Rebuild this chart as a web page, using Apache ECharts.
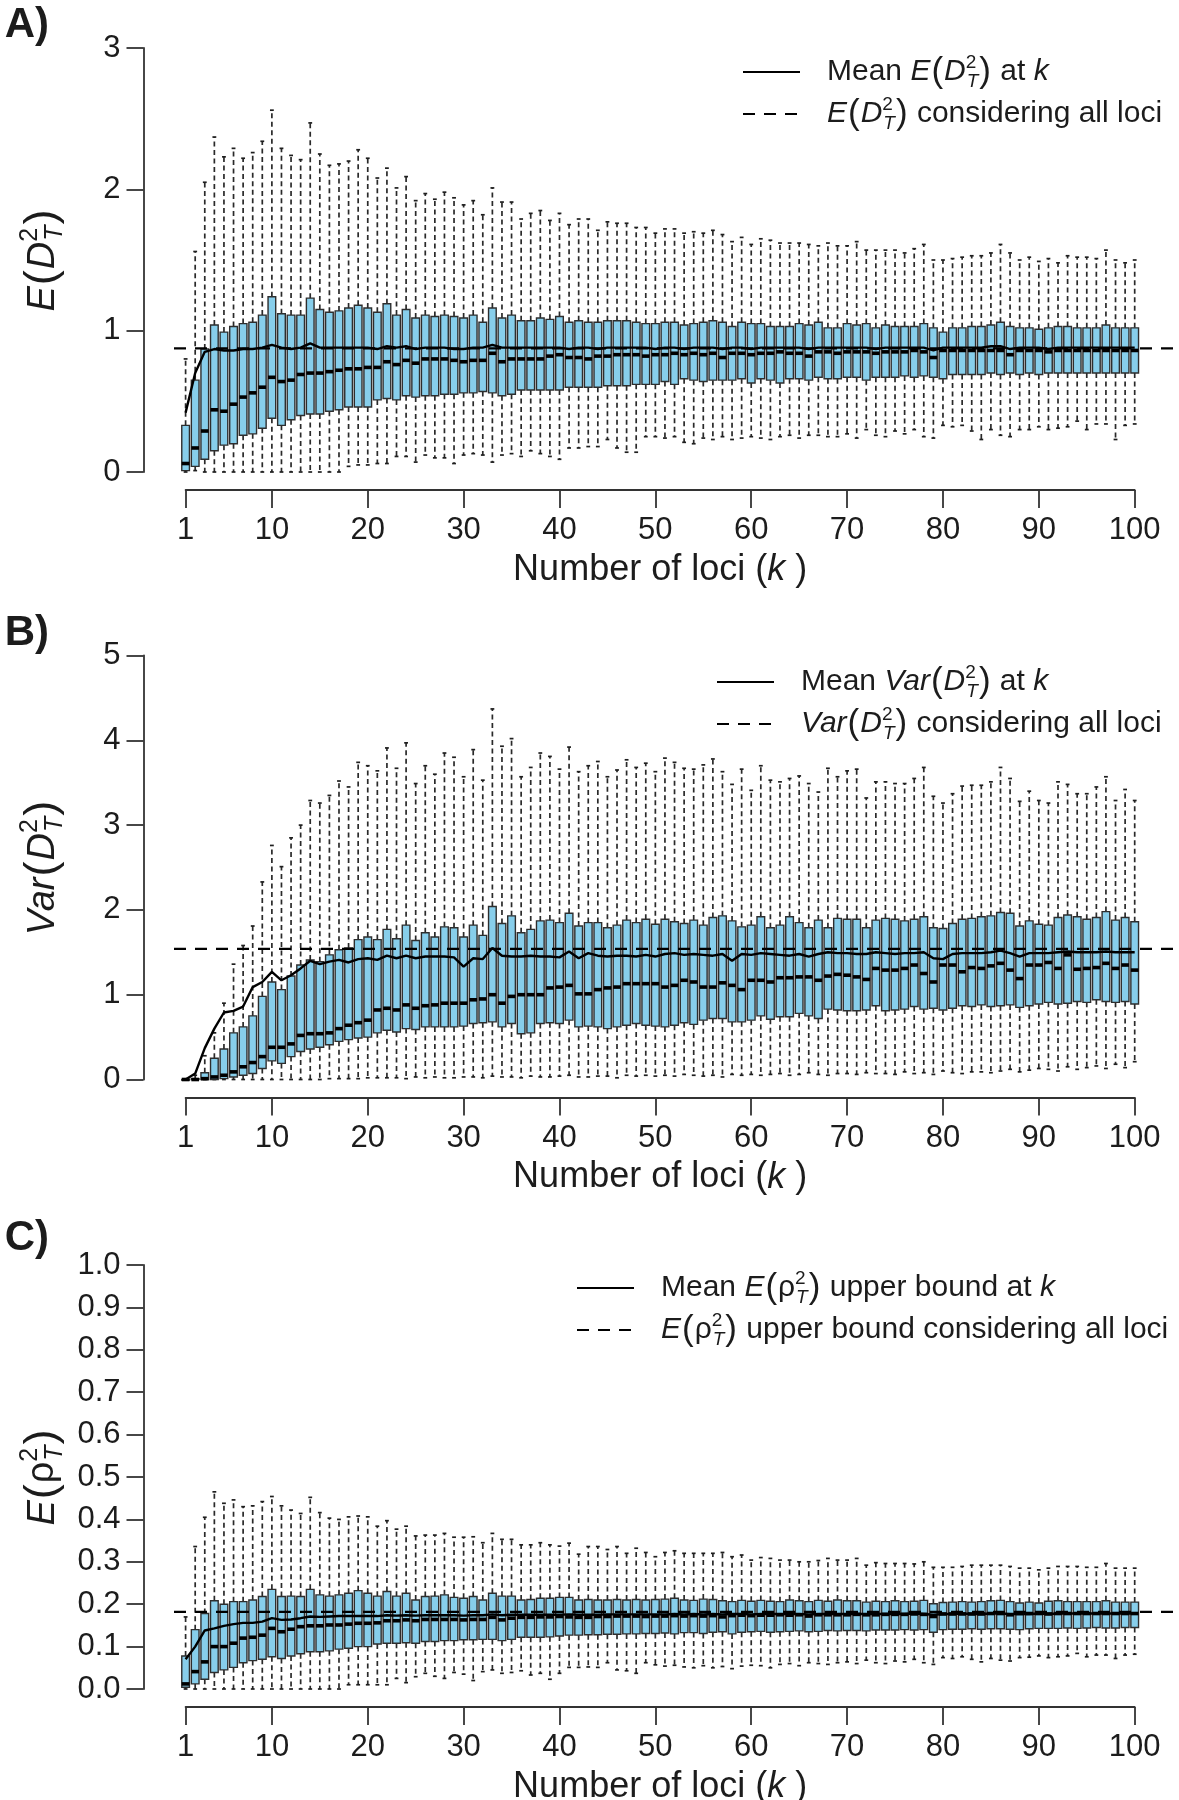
<!DOCTYPE html>
<html><head><meta charset="utf-8">
<script src="https://cdn.jsdelivr.net/npm/echarts@6/dist/echarts.min.js"></script>
<style>html,body{margin:0;padding:0;background:#fff}#c{width:1179px;height:1800px}</style>
</head><body><div id="c"></div>
<script>
// ---------------- DATA ----------------
const loci = [];
for (let k = 1; k <= 100; k++) loci.push(k);
const xTickValues = [1,10,20,30,40,50,60,70,80,90,100];

// Panel A: E(D_T^2)
const A_hi = [0.80,1.56,2.05,2.37,2.23,2.29,2.22,2.26,2.34,2.56, 2.29,2.24,2.21,2.47,2.25,2.17,2.18,2.20,2.28,2.22, 2.08,2.15,2.01,2.09,1.92,1.97,1.93,1.98,1.94,1.89, 1.92,1.82,2.01,1.91,1.91,1.79,1.83,1.85,1.78,1.83, 1.75,1.79,1.79,1.71,1.77,1.76,1.76,1.73,1.73,1.69, 1.72,1.72,1.69,1.70,1.69,1.71,1.68,1.63,1.66,1.61, 1.65,1.64,1.62,1.62,1.62,1.61,1.60,1.62,1.60,1.60, 1.63,1.57,1.57,1.57,1.57,1.55,1.58,1.61,1.50,1.50, 1.51,1.52,1.53,1.53,1.55,1.61,1.55,1.50,1.52,1.49, 1.51,1.48,1.53,1.52,1.52,1.51,1.57,1.50,1.48,1.50];
const A_q3 = [0.33,0.65,0.87,1.04,0.99,1.03,1.05,1.06,1.11,1.24, 1.12,1.11,1.11,1.23,1.15,1.13,1.14,1.16,1.18,1.16, 1.13,1.19,1.11,1.15,1.09,1.11,1.10,1.11,1.10,1.09, 1.11,1.06,1.16,1.09,1.11,1.07,1.07,1.09,1.08,1.10, 1.06,1.07,1.06,1.06,1.07,1.07,1.07,1.06,1.05,1.05, 1.06,1.06,1.04,1.05,1.06,1.07,1.06,1.03,1.06,1.05, 1.05,1.03,1.03,1.03,1.05,1.04,1.06,1.02,1.02,1.05, 1.04,1.05,1.02,1.04,1.03,1.03,1.03,1.05,1.02,0.99, 1.02,1.02,1.03,1.03,1.04,1.06,1.03,1.02,1.02,1.01, 1.02,1.03,1.03,1.02,1.02,1.02,1.04,1.02,1.02,1.02];
const A_med = [0.06,0.17,0.29,0.44,0.43,0.48,0.53,0.56,0.60,0.67, 0.64,0.65,0.69,0.70,0.70,0.71,0.72,0.73,0.73,0.74, 0.74,0.78,0.76,0.79,0.77,0.80,0.80,0.80,0.79,0.78, 0.79,0.79,0.84,0.78,0.80,0.80,0.80,0.80,0.82,0.83, 0.81,0.81,0.80,0.82,0.82,0.83,0.83,0.83,0.82,0.83, 0.83,0.84,0.83,0.84,0.83,0.84,0.81,0.84,0.84,0.83, 0.84,0.84,0.85,0.84,0.84,0.82,0.85,0.85,0.84,0.85, 0.85,0.85,0.84,0.85,0.85,0.85,0.86,0.85,0.81,0.86, 0.86,0.86,0.86,0.86,0.86,0.86,0.83,0.86,0.86,0.86, 0.85,0.86,0.86,0.86,0.86,0.86,0.86,0.86,0.86,0.86];
const A_q1 = [0.01,0.04,0.09,0.15,0.19,0.20,0.26,0.27,0.31,0.38, 0.33,0.37,0.40,0.41,0.41,0.43,0.44,0.46,0.46,0.46, 0.51,0.52,0.51,0.54,0.53,0.54,0.54,0.55,0.55,0.56, 0.56,0.57,0.56,0.54,0.55,0.58,0.58,0.58,0.58,0.58, 0.60,0.60,0.60,0.60,0.61,0.61,0.61,0.62,0.62,0.62, 0.64,0.62,0.66,0.65,0.64,0.65,0.65,0.65,0.66,0.63, 0.66,0.65,0.63,0.66,0.66,0.65,0.67,0.66,0.66,0.67, 0.67,0.65,0.67,0.67,0.67,0.68,0.67,0.68,0.67,0.66, 0.69,0.69,0.69,0.69,0.70,0.69,0.70,0.69,0.70,0.69, 0.70,0.70,0.70,0.70,0.70,0.70,0.70,0.70,0.70,0.70];
const A_lo = [0.00,0.01,0.00,0.00,0.00,0.00,0.00,0.00,0.00,0.00, 0.00,0.00,0.00,0.00,0.00,0.00,0.00,0.04,0.05,0.05, 0.06,0.06,0.11,0.11,0.07,0.12,0.10,0.10,0.06,0.12, 0.13,0.12,0.07,0.12,0.13,0.11,0.15,0.13,0.11,0.09, 0.17,0.17,0.18,0.18,0.23,0.17,0.14,0.14,0.25,0.25, 0.24,0.25,0.21,0.20,0.24,0.23,0.25,0.23,0.24,0.25, 0.24,0.23,0.25,0.26,0.24,0.26,0.26,0.25,0.25,0.27, 0.24,0.30,0.26,0.25,0.29,0.27,0.30,0.25,0.24,0.33, 0.32,0.33,0.29,0.23,0.30,0.26,0.25,0.30,0.30,0.32, 0.30,0.31,0.32,0.36,0.30,0.34,0.34,0.23,0.33,0.34];
const A_mean = [0.42,0.70,0.85,0.87,0.86,0.86,0.87,0.87,0.88,0.90, 0.88,0.87,0.88,0.91,0.88,0.88,0.88,0.88,0.88,0.88, 0.87,0.89,0.88,0.89,0.87,0.88,0.88,0.88,0.87,0.87, 0.88,0.88,0.90,0.88,0.88,0.88,0.88,0.88,0.88,0.88, 0.87,0.88,0.88,0.87,0.88,0.88,0.88,0.88,0.88,0.87, 0.88,0.88,0.87,0.88,0.88,0.88,0.87,0.88,0.88,0.87, 0.88,0.88,0.88,0.88,0.88,0.87,0.88,0.88,0.88,0.88, 0.88,0.88,0.87,0.88,0.88,0.88,0.88,0.88,0.86,0.88, 0.88,0.88,0.88,0.88,0.89,0.89,0.87,0.88,0.88,0.88, 0.87,0.88,0.88,0.88,0.88,0.88,0.88,0.88,0.88,0.88];
const A_all = 0.875;

// Panel B: Var(D_T^2)
const B_hi = [0.00,0.05,0.28,0.55,0.90,1.36,1.58,1.81,2.33,2.76, 2.51,2.85,3.00,3.29,3.26,3.35,3.52,3.45,3.74,3.70, 3.64,3.91,3.67,3.97,3.49,3.70,3.60,3.85,3.80,3.57, 3.89,3.53,4.37,3.93,4.02,3.57,3.68,3.85,3.81,3.66, 3.92,3.63,3.70,3.75,3.57,3.65,3.77,3.68,3.73,3.63, 3.79,3.74,3.67,3.66,3.71,3.78,3.63,3.48,3.66,3.41, 3.70,3.53,3.51,3.55,3.58,3.49,3.39,3.67,3.57,3.64, 3.66,3.32,3.51,3.51,3.49,3.49,3.55,3.68,3.34,3.26, 3.37,3.46,3.47,3.47,3.51,3.68,3.55,3.28,3.40,3.29, 3.26,3.51,3.48,3.37,3.37,3.45,3.57,3.29,3.42,3.29];
const B_q3 = [0.00,0.01,0.08,0.25,0.36,0.55,0.62,0.75,0.98,1.15, 1.06,1.22,1.35,1.41,1.39,1.47,1.53,1.55,1.65,1.68, 1.65,1.77,1.66,1.82,1.64,1.73,1.68,1.80,1.79,1.68, 1.82,1.70,2.04,1.84,1.93,1.73,1.77,1.87,1.88,1.85, 1.96,1.81,1.85,1.85,1.79,1.82,1.88,1.85,1.89,1.83, 1.89,1.86,1.84,1.88,1.82,1.91,1.93,1.87,1.80,1.82, 1.92,1.79,1.82,1.92,1.85,1.79,1.88,1.79,1.90,1.89, 1.89,1.79,1.88,1.90,1.89,1.87,1.89,1.92,1.79,1.78, 1.84,1.89,1.90,1.92,1.93,1.97,1.96,1.81,1.87,1.83, 1.82,1.91,1.94,1.92,1.89,1.91,1.98,1.88,1.91,1.86];
const B_med = [0.00,0.00,0.01,0.03,0.05,0.09,0.15,0.20,0.27,0.38, 0.38,0.42,0.52,0.54,0.54,0.55,0.60,0.64,0.67,0.70, 0.82,0.84,0.82,0.88,0.84,0.87,0.88,0.90,0.90,0.90, 0.94,0.95,1.00,0.90,0.98,1.00,1.00,1.00,1.08,1.09, 1.11,1.01,1.01,1.06,1.08,1.09,1.13,1.13,1.13,1.13, 1.09,1.11,1.17,1.15,1.09,1.09,1.14,1.11,1.06,1.17, 1.17,1.15,1.20,1.20,1.21,1.21,1.17,1.22,1.24,1.23, 1.21,1.18,1.31,1.29,1.29,1.31,1.35,1.25,1.15,1.35, 1.35,1.27,1.32,1.31,1.34,1.37,1.29,1.19,1.35,1.35, 1.38,1.31,1.47,1.30,1.31,1.32,1.37,1.31,1.35,1.29];
const B_q1 = [0.00,0.00,0.00,0.00,0.01,0.03,0.05,0.07,0.13,0.22, 0.19,0.27,0.33,0.36,0.38,0.41,0.45,0.47,0.49,0.50, 0.55,0.58,0.56,0.60,0.59,0.62,0.62,0.62,0.62,0.63, 0.66,0.67,0.68,0.62,0.66,0.54,0.55,0.66,0.67,0.66, 0.70,0.62,0.63,0.62,0.60,0.62,0.64,0.66,0.64,0.63, 0.62,0.64,0.67,0.65,0.70,0.72,0.72,0.68,0.68,0.70, 0.75,0.71,0.74,0.74,0.78,0.75,0.72,0.83,0.82,0.81, 0.81,0.82,0.87,0.81,0.82,0.83,0.86,0.83,0.84,0.82, 0.84,0.87,0.86,0.88,0.86,0.87,0.88,0.85,0.87,0.89, 0.91,0.89,0.90,0.92,0.91,0.94,0.92,0.91,0.92,0.89];
const B_lo = [0,0,0,0,0,0,0,0,0,0, 0,0,0,0,0,0.01,0.01,0.01,0.01,0.02, 0.02,0.02,0.02,0.01,0.03,0.02,0.03,0.02,0.02,0.03, 0.03,0.02,0.04,0.03,0.03,0.02,0.04,0.03,0.03,0.04, 0.05,0.03,0.03,0.04,0.04,0.02,0.05,0.04,0.05,0.04, 0.05,0.04,0.06,0.05,0.04,0.05,0.03,0.06,0.05,0.06, 0.05,0.06,0.07,0.05,0.06,0.08,0.06,0.05,0.07,0.07, 0.06,0.08,0.07,0.07,0.06,0.09,0.07,0.08,0.06,0.10, 0.08,0.07,0.09,0.09,0.08,0.10,0.12,0.09,0.11,0.13, 0.12,0.10,0.15,0.12,0.14,0.16,0.13,0.18,0.14,0.21];
const B_mean = [0.00,0.07,0.37,0.60,0.79,0.81,0.86,1.09,1.15,1.27, 1.17,1.23,1.31,1.40,1.36,1.39,1.41,1.38,1.42,1.43, 1.41,1.46,1.43,1.46,1.43,1.45,1.45,1.45,1.44,1.33, 1.43,1.42,1.55,1.46,1.45,1.45,1.46,1.45,1.45,1.44, 1.51,1.43,1.49,1.46,1.45,1.46,1.46,1.45,1.47,1.45, 1.48,1.49,1.47,1.48,1.47,1.46,1.48,1.40,1.48,1.47, 1.49,1.48,1.47,1.46,1.48,1.45,1.48,1.50,1.49,1.49, 1.48,1.48,1.50,1.49,1.48,1.49,1.49,1.50,1.43,1.42, 1.48,1.49,1.49,1.49,1.50,1.52,1.49,1.45,1.49,1.49, 1.49,1.50,1.51,1.50,1.50,1.50,1.51,1.50,1.50,1.50];
const B_all = 1.54;

// Panel C: E(rho_T^2) upper bound
const C_hi = [0.17,0.336,0.405,0.465,0.438,0.446,0.43,0.432,0.442,0.454, 0.432,0.422,0.414,0.452,0.416,0.403,0.40,0.406,0.408,0.406, 0.384,0.397,0.377,0.384,0.361,0.363,0.363,0.367,0.358,0.358, 0.359,0.345,0.367,0.353,0.353,0.34,0.34,0.345,0.34,0.337, 0.344,0.318,0.336,0.336,0.329,0.336,0.32,0.332,0.322,0.312, 0.322,0.326,0.32,0.32,0.32,0.32,0.322,0.312,0.316,0.304, 0.31,0.308,0.304,0.304,0.30,0.30,0.303,0.308,0.304,0.304, 0.308,0.292,0.298,0.296,0.296,0.296,0.295,0.30,0.287,0.287, 0.287,0.289,0.292,0.292,0.292,0.292,0.289,0.285,0.285,0.281, 0.285,0.289,0.289,0.289,0.287,0.287,0.296,0.285,0.285,0.285];
const C_q3 = [0.078,0.14,0.178,0.208,0.20,0.206,0.206,0.21,0.218,0.235, 0.218,0.219,0.218,0.235,0.222,0.219,0.222,0.226,0.232,0.226, 0.219,0.23,0.219,0.226,0.21,0.218,0.219,0.222,0.216,0.214, 0.218,0.21,0.226,0.219,0.219,0.21,0.211,0.214,0.214,0.216, 0.216,0.21,0.211,0.21,0.21,0.211,0.21,0.211,0.21,0.211, 0.212,0.214,0.21,0.209,0.212,0.211,0.208,0.206,0.209,0.207, 0.209,0.207,0.206,0.21,0.208,0.206,0.209,0.207,0.21,0.208, 0.208,0.205,0.207,0.206,0.208,0.206,0.207,0.209,0.201,0.204, 0.205,0.206,0.205,0.206,0.208,0.209,0.206,0.203,0.205,0.203, 0.207,0.208,0.206,0.206,0.206,0.206,0.208,0.205,0.205,0.205];
const C_med = [0.012,0.041,0.064,0.10,0.10,0.108,0.12,0.122,0.127,0.143, 0.135,0.141,0.147,0.149,0.149,0.151,0.151,0.153,0.155,0.155, 0.156,0.161,0.161,0.163,0.161,0.164,0.164,0.164,0.164,0.163, 0.164,0.164,0.169,0.163,0.167,0.169,0.169,0.17,0.17,0.171, 0.17,0.169,0.169,0.171,0.171,0.172,0.172,0.172,0.171,0.172, 0.172,0.173,0.172,0.173,0.172,0.173,0.17,0.173,0.174,0.173, 0.174,0.174,0.175,0.174,0.175,0.172,0.175,0.175,0.175,0.175, 0.176,0.175,0.175,0.176,0.176,0.176,0.177,0.176,0.171,0.177, 0.177,0.177,0.177,0.177,0.178,0.178,0.175,0.178,0.178,0.178, 0.177,0.178,0.178,0.178,0.178,0.178,0.178,0.178,0.178,0.178];
const C_q1 = [0.004,0.012,0.023,0.039,0.045,0.051,0.062,0.067,0.07,0.076, 0.072,0.078,0.083,0.088,0.088,0.09,0.094,0.096,0.10,0.10, 0.106,0.108,0.108,0.109,0.108,0.112,0.112,0.114,0.114,0.116, 0.116,0.117,0.117,0.114,0.117,0.122,0.122,0.122,0.123,0.125, 0.127,0.127,0.128,0.128,0.129,0.129,0.13,0.13,0.131,0.131, 0.132,0.13,0.133,0.133,0.131,0.134,0.135,0.13,0.134,0.135, 0.136,0.134,0.135,0.136,0.137,0.135,0.136,0.138,0.137,0.138, 0.138,0.137,0.139,0.139,0.139,0.14,0.139,0.14,0.134,0.14, 0.141,0.141,0.142,0.141,0.142,0.142,0.141,0.14,0.142,0.143, 0.143,0.143,0.144,0.143,0.144,0.145,0.144,0.144,0.145,0.145];
const C_lo = [0,0,0,0,0,0,0,0,0,0, 0,0,0,0,0,0,0,0.01,0.01,0.01, 0.01,0.01,0.025,0.015,0.029,0.037,0.03,0.025,0.039,0.035, 0.02,0.041,0.045,0.037,0.039,0.043,0.033,0.037,0.023,0.037, 0.051,0.051,0.052,0.051,0.062,0.045,0.043,0.037,0.062,0.057, 0.054,0.056,0.052,0.05,0.055,0.05,0.053,0.048,0.054,0.056, 0.055,0.05,0.058,0.06,0.055,0.062,0.06,0.058,0.062,0.064, 0.06,0.068,0.062,0.06,0.066,0.064,0.07,0.062,0.058,0.074, 0.072,0.076,0.07,0.064,0.072,0.068,0.066,0.074,0.075,0.078, 0.074,0.076,0.078,0.084,0.076,0.08,0.08,0.072,0.08,0.082];
const C_mean = [0.07,0.10,0.138,0.143,0.149,0.153,0.156,0.156,0.159,0.167, 0.163,0.164,0.167,0.171,0.17,0.171,0.172,0.172,0.172,0.172, 0.172,0.174,0.173,0.174,0.173,0.174,0.174,0.174,0.174,0.173, 0.174,0.174,0.176,0.174,0.175,0.175,0.175,0.175,0.175,0.175, 0.176,0.175,0.175,0.175,0.176,0.176,0.176,0.176,0.176,0.176, 0.176,0.177,0.176,0.177,0.176,0.177,0.176,0.177,0.177,0.176, 0.177,0.177,0.177,0.177,0.177,0.176,0.177,0.177,0.177,0.177, 0.177,0.177,0.177,0.177,0.177,0.177,0.178,0.177,0.175,0.177, 0.177,0.178,0.177,0.177,0.178,0.178,0.177,0.177,0.177,0.178, 0.177,0.178,0.178,0.178,0.178,0.178,0.178,0.178,0.178,0.178];
const C_all = 0.182;

// ---------------- STYLE / LAYOUT ----------------
const F = "'Liberation Sans', Arial, Helvetica, sans-serif";
const TX = '#1c1c1c';
const AX = '#333333';

function richSet(size, lh, supSize, parenSize, spacer) {
  const base = {fontFamily: F, color: TX, align: 'left'};
  return {
    sp:  Object.assign({}, base, {fontSize: size, lineHeight: lh, width: spacer || 0}),
    n:   Object.assign({}, base, {fontSize: size, lineHeight: lh}),
    i:   Object.assign({}, base, {fontSize: size, lineHeight: lh, fontStyle: 'italic'}),
    g:   Object.assign({}, base, {fontSize: size, lineHeight: lh}),
    p:   Object.assign({}, base, {fontSize: parenSize, lineHeight: lh, padding: [0, 1, 0, 1]}),
    sup: Object.assign({}, base, {fontSize: supSize, lineHeight: supSize + 2, verticalAlign: 'top', width: 1}),
    sub: Object.assign({}, base, {fontSize: supSize, lineHeight: supSize + 2, verticalAlign: 'bottom', fontStyle: 'italic'})
  };
}
const legendRich = richSet(30, 38, 19, 35, 22);
const titleRich = richSet(36, 46, 23, 42, 0);
const yTitleRich = richSet(38, 50, 25, 45, 0);

const legendText = {
  meanA: '{sp| }{n|Mean }{i|E}{p|(}{i|D}{sup|2}{sub|T}{p|)}{n| at }{i|k}',
  allA:  '{sp| }{i|E}{p|(}{i|D}{sup|2}{sub|T}{p|)}{n| considering all loci}',
  meanB: '{sp| }{n|Mean }{i|Var}{p|(}{i|D}{sup|2}{sub|T}{p|)}{n| at }{i|k}',
  allB:  '{sp| }{i|Var}{p|(}{i|D}{sup|2}{sub|T}{p|)}{n| considering all loci}',
  meanC: '{sp| }{n|Mean }{i|E}{p|(}{g|ρ}{sup|2}{sub|T}{p|)}{n| upper bound at }{i|k}',
  allC:  '{sp| }{i|E}{p|(}{g|ρ}{sup|2}{sub|T}{p|)}{n| upper bound considering all loci}'
};

const panels = [
  {hi:A_hi,q3:A_q3,med:A_med,q1:A_q1,lo:A_lo,mean:A_mean,all:A_all, yMax:3, yInt:1, dec:0,
   top:48, legLeft:742, legTop:53, meanName:'meanA', allName:'allA', label:'A)', labelY:25,
   yTitle:'{i|E}{p|(}{i|D}{sup|2}{sub|T}{p|)}'},
  {hi:B_hi,q3:B_q3,med:B_med,q1:B_q1,lo:B_lo,mean:B_mean,all:B_all, yMax:5, yInt:1, dec:0,
   top:655.5, legLeft:716, legTop:663, meanName:'meanB', allName:'allB', label:'B)', labelY:633,
   yTitle:'{i|Var}{p|(}{i|D}{sup|2}{sub|T}{p|)}'},
  {hi:C_hi,q3:C_q3,med:C_med,q1:C_q1,lo:C_lo,mean:C_mean,all:C_all, yMax:1, yInt:0.1, dec:1,
   top:1265, legLeft:576, legTop:1269, meanName:'meanC', allName:'allC', label:'C)', labelY:1238,
   yTitle:'{i|E}{p|(}{g|ρ}{sup|2}{sub|T}{p|)}'}
];
// plot frame: k = 1 at x = 185.6 px, k = 100 at x = 1134.7 px
const GRID_LEFT = 185.6, GRID_W = 949.1, GRID_H = 424;
// the reference ("all loci") line spans the full R plot region, drawn on an overlay grid in k units
const REF_LEFT = 174, REF_KMIN = -0.21, REF_KMAX = 104.62;

function renderBox(params, api) {
  const k = api.value(0);
  const pts = [1,2,3,4,5].map(d => api.coord([k, api.value(d)]));
  const cx = pts[2][0];
  const bw = api.size([0.8, 0])[0];
  const sw = bw * 0.5;
  const yLo = pts[0][1], yQ1 = pts[1][1], yMed = pts[2][1], yQ3 = pts[3][1], yHi = pts[4][1];
  const wStyle = {stroke: '#2a2a2a', lineWidth: 1.7, lineDash: [5, 3.5], fill: null};
  const sStyle = {stroke: '#1e1e1e', lineWidth: 1.7, fill: null};
  return {
    type: 'group',
    children: [
      {type: 'line', shape: {x1: cx, y1: yQ3, x2: cx, y2: yHi}, style: wStyle},
      {type: 'line', shape: {x1: cx, y1: yQ1, x2: cx, y2: yLo}, style: wStyle},
      {type: 'line', shape: {x1: cx - sw / 2, y1: yHi, x2: cx + sw / 2, y2: yHi}, style: sStyle},
      {type: 'line', shape: {x1: cx - sw / 2, y1: yLo, x2: cx + sw / 2, y2: yLo}, style: sStyle},
      {type: 'rect', shape: {x: cx - bw / 2, y: yQ3, width: bw, height: Math.max(yQ1 - yQ3, 0.6)},
       style: {fill: '#87CEEB', stroke: '#2e2e2e', lineWidth: 1.4}},
      {type: 'line', shape: {x1: cx - bw / 2, y1: yMed, x2: cx + bw / 2, y2: yMed},
       style: {stroke: '#000', lineWidth: 3.6}}
    ]
  };
}

const option = {
  animation: false,
  backgroundColor: '#ffffff',
  grid: [], xAxis: [], yAxis: [], series: [], legend: [], graphic: []
};

panels.forEach((P, i) => {
  // main plot grid (index 2i) and overlay grid for the reference line (index 2i+1)
  option.grid.push({left: GRID_LEFT, width: GRID_W, top: P.top, height: GRID_H, containLabel: false, outerBoundsMode: 'none'});
  option.grid.push({left: REF_LEFT, right: 0, top: P.top, height: GRID_H, containLabel: false, outerBoundsMode: 'none'});
  option.xAxis.push({
    gridIndex: 2 * i, type: 'value', min: 1, max: 100, offset: 18,
    axisLine: {show: true, onZero: false, lineStyle: {color: AX, width: 1.8}},
    axisTick: {show: true, length: 18, customValues: xTickValues, lineStyle: {color: AX, width: 1.8}},
    axisLabel: {customValues: xTickValues, margin: 25, fontSize: 31, color: TX, fontFamily: F},
    splitLine: {show: false},
    name: '{n|Number of loci (}{i|k}{n| )}', nameLocation: 'middle', nameGap: 57,
    nameTextStyle: {rich: titleRich}
  });
  option.xAxis.push({gridIndex: 2 * i + 1, type: 'value', min: REF_KMIN, max: REF_KMAX, show: false});
  option.yAxis.push({
    gridIndex: 2 * i, type: 'value', min: 0, max: P.yMax, interval: P.yInt, offset: GRID_LEFT - 143.5,
    axisLine: {show: true, onZero: false, lineStyle: {color: AX, width: 1.8}},
    axisTick: {show: true, length: 17, lineStyle: {color: AX, width: 1.8}},
    axisLabel: {margin: 23, fontSize: 31, color: TX, fontFamily: F,
                formatter: v => Number(v).toFixed(P.dec)},
    splitLine: {show: false}
  });
  option.yAxis.push({gridIndex: 2 * i + 1, type: 'value', min: 0, max: P.yMax, show: false});

  const boxData = loci.map((k, j) => [k, P.lo[j], P.q1[j], P.med[j], P.q3[j], P.hi[j]]);
  option.series.push({
    type: 'custom', xAxisIndex: 2 * i, yAxisIndex: 2 * i, renderItem: renderBox,
    encode: {x: 0, y: [1, 2, 3, 4, 5]}, data: boxData, clip: false, z: 2, silent: true
  });
  option.series.push({
    type: 'line', name: P.meanName, xAxisIndex: 2 * i, yAxisIndex: 2 * i,
    data: loci.map((k, j) => [k, P.mean[j]]), symbol: 'none', showSymbol: false,
    lineStyle: {color: '#000', width: 2.4}, itemStyle: {color: '#000'}, z: 4, clip: false, silent: true
  });
  option.series.push({
    type: 'line', name: P.allName, xAxisIndex: 2 * i + 1, yAxisIndex: 2 * i + 1,
    data: [[REF_KMIN, P.all], [REF_KMAX, P.all]], symbol: 'none', showSymbol: false,
    lineStyle: {color: '#000', width: 2.4, type: [12, 9]}, itemStyle: {color: '#000'}, z: 5, clip: false, silent: true
  });
  option.legend.push({
    data: [P.meanName, P.allName], orient: 'vertical', left: P.legLeft, top: P.legTop,
    itemWidth: 57, itemHeight: 14, itemGap: 4, padding: 0, selectedMode: false,
    itemStyle: {opacity: 0, borderWidth: 0, color: 'rgba(0,0,0,0)'},
    formatter: name => legendText[name],
    textStyle: {fontFamily: F, fontSize: 30, color: TX, rich: legendRich}
  });
  option.graphic.push({
    type: 'text', x: 49, y: P.labelY, silent: true,
    style: {text: P.label, fontSize: 42, fontWeight: 'bold', fontFamily: F, fill: TX, align: 'right', verticalAlign: 'middle'}
  });
  option.graphic.push({
    type: 'text', x: 43, y: P.top + GRID_H / 2, rotation: Math.PI / 2, silent: true,
    style: {text: P.yTitle, rich: yTitleRich, fontFamily: F, fontSize: 38, fill: TX, align: 'center', verticalAlign: 'middle'}
  });
});

const chart = echarts.init(document.getElementById('c'), null, {renderer: 'canvas', width: 1179, height: 1800});
chart.setOption(option);
</script>
</body></html>
